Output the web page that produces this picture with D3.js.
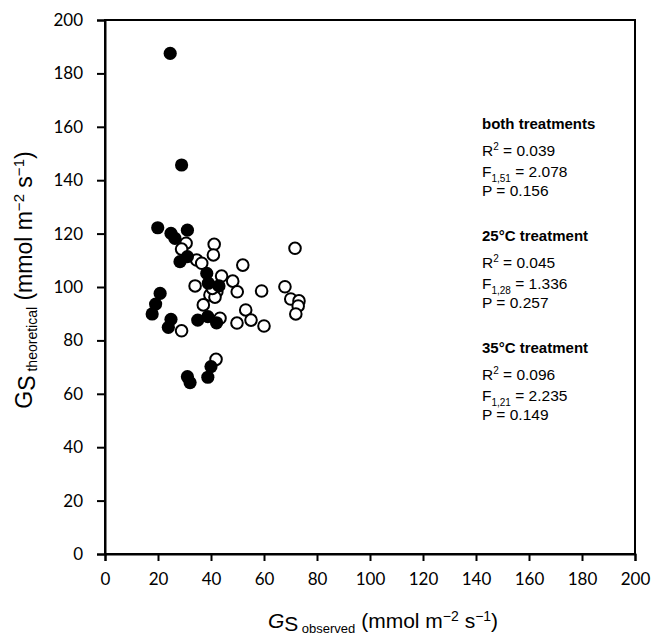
<!DOCTYPE html>
<html><head><meta charset="utf-8">
<script src="https://cdn.jsdelivr.net/npm/d3@7"></script>
<style>body{margin:0;background:#fff}svg{display:block}</style>
</head><body>
<script>
// Data: 25°C treatment (open circles), 35°C treatment (filled circles)
const obs25 = [30.6,41.2,28.9,40.9,34.6,36.5,44.0,48.2,34.0,42.2,39.6,41.5,49.9,37.1,28.9,43.4,49.8,41.9,71.7,52.0,59.1,67.9,70.1,73.2,72.9,72.0,53.1,55.1,60.0,40.5];
const theo25 = [116.4,116.0,114.2,112.0,110.1,108.9,104.1,102.2,100.4,98.2,97.0,96.2,98.2,93.3,83.6,88.3,86.5,72.9,114.5,108.2,98.5,100.1,95.5,94.8,92.9,89.9,91.4,87.6,85.4,99.5];
const obs35 = [24.6,28.9,19.9,24.9,31.1,26.4,31.1,28.3,38.4,39.0,43.0,20.8,19.1,17.8,24.9,23.9,35.0,38.8,42.1,40.0,38.8,31.1,32.1];
const theo35 = [187.5,145.7,122.2,120.1,121.3,118.2,111.4,109.5,105.1,101.4,100.4,97.6,93.6,89.9,87.9,84.9,87.6,88.9,86.6,70.2,66.2,66.4,64.2];
const ticks = [0,20,40,60,80,100,120,140,160,180,200];
const statTitles = ["both treatments","25°C treatment","35°C treatment"];
const statR2 = ["0.039","0.045","0.096"];
const statDf = ["1,51","1,28","1,21"];
const statF = ["2.078","1.336","2.235"];
const statP = ["0.156","0.257","0.149"];

const W = 654, H = 637;
const svg = d3.select("body").append("svg").attr("width", W).attr("height", H);
const x = d3.scaleLinear().domain([0,200]).range([105,635]);
const y = d3.scaleLinear().domain([0,200]).range([554,20]);

const tickFont = "Lato, 'Open Sans', sans-serif";
const txtFont = "'Liberation Sans', Arial, sans-serif";

// frame
svg.append("rect").attr("x", x(0)).attr("y", y(200)).attr("width", x(200)-x(0)).attr("height", y(0)-y(200))
  .attr("fill","none").attr("stroke","#000").attr("stroke-width",2);

const xa = svg.append("g").attr("transform", `translate(0,${y(0)})`)
  .call(d3.axisBottom(x).tickValues(ticks).tickSize(7).tickPadding(12).tickFormat(d3.format("d")));
const ya = svg.append("g").attr("transform", `translate(${x(0)},0)`)
  .call(d3.axisLeft(y).tickValues(ticks).tickSize(8).tickPadding(14).tickFormat(d3.format("d")));
[xa, ya].forEach(a => {
  a.select(".domain").attr("stroke","#000").attr("stroke-width",2);
  a.selectAll(".tick line").attr("stroke","#000").attr("stroke-width",2);
  a.selectAll(".tick text").attr("font-family", tickFont).attr("font-size", 17).attr("fill","#000");
});

// points
svg.append("g").selectAll("circle").data(obs25.map((d,i)=>[d,theo25[i]])).join("circle")
  .attr("cx", d=>x(d[0])).attr("cy", d=>y(d[1])).attr("r", 5.8)
  .attr("fill","#fff").attr("stroke","#000").attr("stroke-width",2);
svg.append("g").selectAll("circle").data(obs35.map((d,i)=>[d,theo35[i]])).join("circle")
  .attr("cx", d=>x(d[0])).attr("cy", d=>y(d[1])).attr("r", 6.6)
  .attr("fill","#000");

// axis titles
const xt = svg.append("text").attr("x", 383).attr("y", 628).attr("text-anchor","middle")
  .attr("font-family", txtFont).attr("font-size", 21).attr("fill","#000");
xt.append("tspan").attr("font-style","italic").text("G");
xt.append("tspan").attr("dy", 3).text("S");
xt.append("tspan").attr("font-size", 13).attr("dy", 2).text(" observed");
xt.append("tspan").attr("dy", -5).text(" (mmol m");
xt.append("tspan").attr("font-size", 14).attr("dy", -7).text("−2");
xt.append("tspan").attr("dy", 7).text(" s");
xt.append("tspan").attr("font-size", 14).attr("dy", -7).text("−1");
xt.append("tspan").attr("dy", 7).text(")");

const yt = svg.append("text").attr("transform", `translate(32,280) rotate(-90)`)
  .attr("text-anchor","middle").attr("font-family", txtFont).attr("font-size", 23).attr("fill","#000");
yt.append("tspan").text("G");
yt.append("tspan").attr("dy", 3).text("S");
yt.append("tspan").attr("font-size", 14).attr("dy", 2).text(" theoretical");
yt.append("tspan").attr("dy", -5).text(" (mmol m");
yt.append("tspan").attr("font-size", 15).attr("dy", -8).text("−2");
yt.append("tspan").attr("dy", 8).text(" s");
yt.append("tspan").attr("font-size", 15).attr("dy", -8).text("−1");
yt.append("tspan").attr("dy", 8).text(")");

// stats annotations
const statTop = [129, 241, 353];
const ann = svg.append("g").attr("font-family", txtFont).attr("fill","#000");
statTitles.forEach((t,i) => {
  const b = statTop[i];
  ann.append("text").attr("x", 482).attr("y", b).attr("font-size", 15).attr("font-weight","bold").text(t);
  const r = ann.append("text").attr("x", 482).attr("y", b+27).attr("font-size", 15.5);
  r.append("tspan").text("R");
  r.append("tspan").attr("font-size", 10).attr("dy", -6).text("2");
  r.append("tspan").attr("dy", 6).text(" = " + statR2[i]);
  const f = ann.append("text").attr("x", 482).attr("y", b+48).attr("font-size", 15.5);
  f.append("tspan").text("F");
  f.append("tspan").attr("font-size", 10).attr("dy", 5).text(statDf[i]);
  f.append("tspan").attr("dy", -5).text(" = " + statF[i]);
  ann.append("text").attr("x", 482).attr("y", b+67).attr("font-size", 15.5).text("P = " + statP[i]);
});
</script>
</body></html>
